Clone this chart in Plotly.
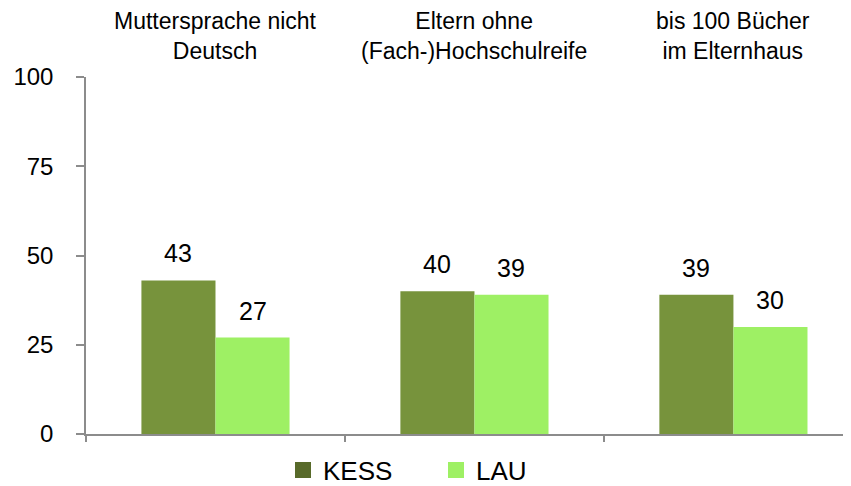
import plotly.graph_objects as go

categories = ["Muttersprache nicht<br>Deutsch", "Eltern ohne<br>(Fach-)Hochschulreife", "bis 100 Bücher<br>im Elternhaus"]
series_names = ["KESS", "LAU"]
kess = [43, 40, 39]
lau = [27, 39, 30]
y_ticks = [0, 25, 50, 75, 100]

bar_colors = ["#77933C", "#9EF064"]
legend_colors = ["#586A2A", "#9EF064"]
FONT = "Liberation Sans, Arial, sans-serif"

# page body has an 8px default margin; size figure so it fills the 851x486 window
W, H = 843, 478

x_idx = list(range(len(categories)))
fig = go.Figure()
for name, vals, col in zip(series_names, [kess, lau], bar_colors):
    fig.add_trace(go.Bar(x=x_idx, y=vals, name=name, marker=dict(color=col, line=dict(width=0)),
                         showlegend=False))
for name, col in zip(series_names, legend_colors):
    fig.add_trace(go.Scatter(x=[None], y=[None], mode="markers", name=name,
                             marker=dict(symbol="square", size=16, color=col)))

bargap = 0.428
half = (1 - bargap) / 4
annotations = []
for i in x_idx:
    for s, vals in enumerate([kess, lau]):
        annotations.append(dict(x=i + (-half if s == 0 else half), y=vals[i], xref="x", yref="y",
                                text=str(vals[i]), showarrow=False, yanchor="middle", yshift=27,
                                font=dict(family=FONT, size=25, color="black")))
    annotations.append(dict(x=i, y=1, xref="x", yref="paper", text=categories[i], showarrow=False,
                            yanchor="middle", yshift=41,
                            font=dict(family=FONT, size=23, color="black")))

fig.update_layout(
    width=W, height=H,
    margin=dict(l=78, r=0, t=69, b=52, autoexpand=False),
    paper_bgcolor="white", plot_bgcolor="white",
    barmode="group", bargap=bargap, bargroupgap=0,
    font=dict(family=FONT, color="black"),
    annotations=annotations,
    legend=dict(orientation="h", xref="container", yref="container", x=275 / W, xanchor="left",
                y=1 - 462 / H, yanchor="middle",
                font=dict(family=FONT, size=26, color="black"), itemwidth=30,
                entrywidth=108, entrywidthmode="pixels"),
    xaxis=dict(range=[-0.5, 2.454], tickvals=[-0.5, 0.5, 1.5, 2.5], ticktext=["", "", "", ""],
               ticks="outside", ticklen=6, tickcolor="#8C8C8C", tickwidth=1.5, automargin=False,
               showline=True, linecolor="#8C8C8C", linewidth=1.5, showgrid=False, zeroline=False,
               fixedrange=True),
    yaxis=dict(range=[0, 100], tickvals=y_ticks, ticks="outside", ticklen=8, tickcolor="#8C8C8C",
               tickwidth=1.5, showline=True, linecolor="#8C8C8C", linewidth=1.5, showgrid=False,
               zeroline=False, ticklabelstandoff=18, automargin=False,
               tickfont=dict(family=FONT, size=24, color="black")),
)
fig.write_html("out.html")
